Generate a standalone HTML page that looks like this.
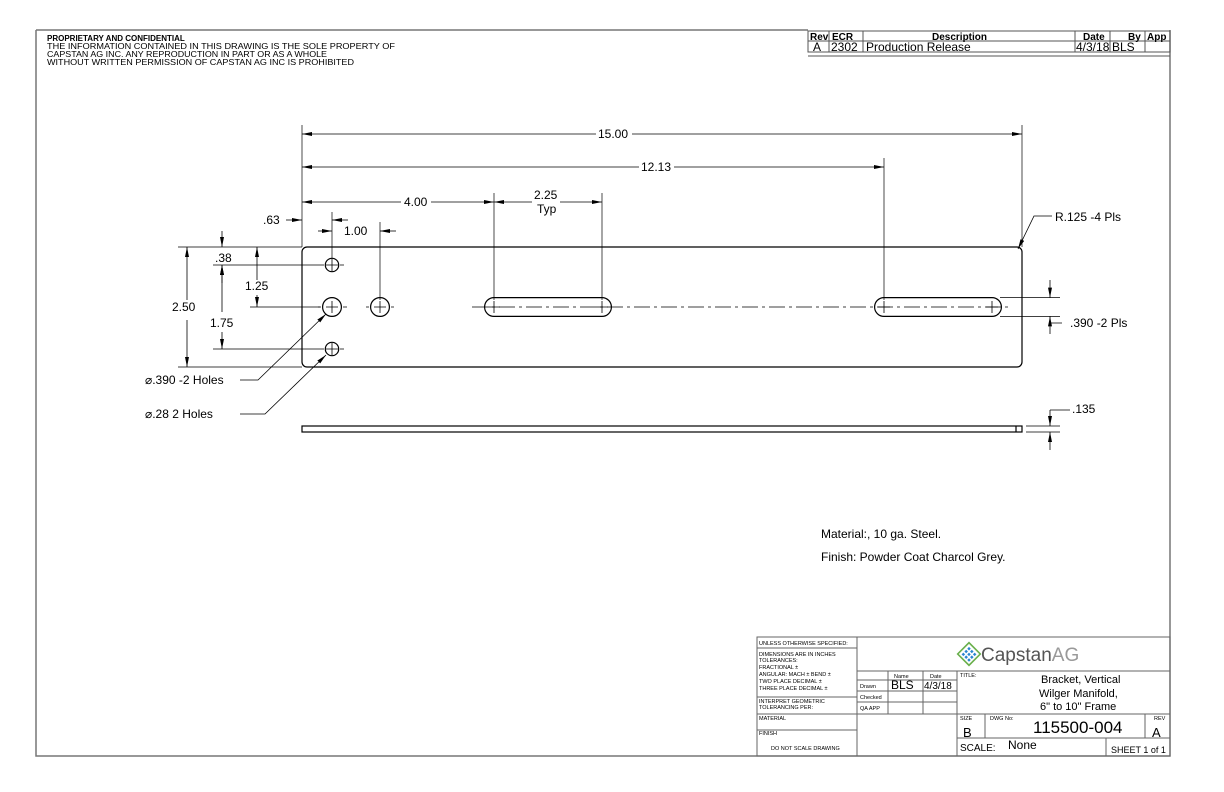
<!DOCTYPE html>
<html><head><style>
html,body{margin:0;padding:0;background:#fff}
svg{display:block}
text{font-family:"Liberation Sans",Arial,sans-serif;fill:#000}
</style></head><body>
<svg width="1224" height="792" viewBox="0 0 1224 792" xmlns="http://www.w3.org/2000/svg">
<defs>
<marker id="a" viewBox="0 0 10 4" refX="10" refY="2" markerWidth="10" markerHeight="4" orient="auto" markerUnits="userSpaceOnUse"><path d="M0,0 L10,2 L0,4z" fill="#000"/></marker>
</defs>
<g stroke="#777" stroke-width="1.5" fill="none">
<path d="M36,30 H808 M36,30 V756 H1170 V30"/>
</g>
<text x="47" y="41" font-size="8" font-weight="bold">PROPRIETARY AND CONFIDENTIAL</text>
<text x="47" y="49" font-size="8.5" textLength="348" lengthAdjust="spacingAndGlyphs">THE INFORMATION CONTAINED IN THIS DRAWING IS THE SOLE PROPERTY OF</text>
<text x="47" y="57" font-size="8.5" textLength="280" lengthAdjust="spacingAndGlyphs">CAPSTAN AG INC. ANY REPRODUCTION IN PART OR AS A WHOLE</text>
<text x="47" y="65" font-size="8.5" textLength="307" lengthAdjust="spacingAndGlyphs">WITHOUT WRITTEN PERMISSION OF CAPSTAN AG INC IS PROHIBITED</text>
<g stroke="#555" stroke-width="1" fill="none">
<rect x="808" y="31" width="362" height="21"/>
<path d="M808,41 H1170 M829,31 V52 M863,31 V52 M1075,31 V52 M1110,31 V52 M1145,31 V52 M808,56 H1170"/>
</g>
<g font-size="10" font-weight="bold">
<text x="810" y="40">Rev</text><text x="832" y="40">ECR</text><text x="932" y="40">Description</text><text x="1083" y="40">Date</text><text x="1128" y="40">By</text><text x="1147" y="40">App</text>
</g>
<g font-size="12">
<text x="813" y="51">A</text><text x="831" y="51">2302</text><text x="866" y="51">Production Release</text><text x="1076" y="51">4/3/18</text><text x="1112" y="51">BLS</text>
</g>
<g stroke="#000" stroke-width="1.2" fill="none">
<rect x="302" y="247" width="720" height="120" rx="5"/>
<circle cx="332" cy="265" r="6.7"/><circle cx="332" cy="349" r="6.7"/>
<circle cx="332" cy="307" r="9.4"/><circle cx="380" cy="307" r="9.4"/>
<path d="M494,297.6 H602 A9.4,9.4 0 0 1 602,316.4 H494 A9.4,9.4 0 0 1 494,297.6Z"/>
<path d="M884,297.6 H992 A9.4,9.4 0 0 1 992,316.4 H884 A9.4,9.4 0 0 1 884,297.6Z"/>
<rect x="302" y="426" width="720" height="6"/>
<path d="M1016,426 V432"/>
</g>
<g stroke="#000" stroke-width="0.8" fill="none">
<path d="M326,265 H338 M332,259 V271 M326,349 H338 M332,343 V355 M326,307 H338 M332,301 V313 M374,307 H386 M380,301 V313"/>
<path d="M488,307 H500 M494,301 V313 M596,307 H608 M602,301 V313 M878,307 H890 M884,301 V313 M986,307 H998 M992,301 V313"/>
<path d="M472,307 H1010" stroke-dasharray="16,4,3,4"/>
<path d="M320,265 H324 M340,265 H344 M320,349 H324 M340,349 H344 M318,307 H321 M343,307 H347 M366,307 H369 M391,307 H394"/>
</g>
<g stroke="#000" stroke-width="0.7" fill="none">
<path d="M302,125 V247 M1022,125 V247 M884,158 V300 M494,193 V300 M602,193 V300 M332,212 V258 M380,222 V300"/>
<path d="M178,247 H302 M178,367 H302 M213,265 H320 M250,307 H320 M213,349 H320"/>
<path d="M1000,297.6 H1060 M1000,316.4 H1060 M1026,426 H1060 M1026,432 H1060"/>
</g>
<g stroke="#000" stroke-width="0.8" fill="none" marker-end="url(#a)">
<path d="M596,134 H302"/><path d="M632,134 H1022"/>
<path d="M639,167 H302"/><path d="M674,167 H884"/>
<path d="M401,202 H302"/><path d="M431,202 H494"/>
<path d="M532,202 H494"/><path d="M560,202 H602"/>
<path d="M187,300 V247"/><path d="M187,320 V367"/>
<path d="M257,280 V247"/><path d="M257,295 V307"/>
<path d="M222,312 V265"/><path d="M222,332 V349"/>
<path d="M286,220 H302"/><path d="M348,220 H332"/>
<path d="M318,231 H332"/><path d="M396,231 H380"/>
<path d="M222,231 V247"/><path d="M222,283 V265"/>
<path d="M1050,280 V297.6"/><path d="M1050,334 V316.4"/>
<path d="M1050,410 V426"/><path d="M1050,450 V432"/>
<path d="M240,380 H258 L326,314"/>
<path d="M240,414 H265 L326,355"/>
<path d="M1052,216 H1034 L1018,249"/>
</g>
<g stroke="#000" stroke-width="0.8"><path d="M1062,323 H1050 M1070,410 H1050"/></g>
<g font-size="12">
<text x="598" y="138">15.00</text>
<text x="641" y="171">12.13</text>
<text x="404" y="206">4.00</text>
<text x="534" y="199">2.25</text><text x="537" y="213">Typ</text>
<text x="263" y="224">.63</text>
<text x="344" y="235">1.00</text>
<text x="1055" y="221">R.125 -4 Pls</text>
<text x="1070" y="327">.390 -2 Pls</text>
<text x="1072" y="413">.135</text>
<text x="215" y="262">.38</text>
<text x="245" y="290">1.25</text>
<text x="172" y="311">2.50</text>
<text x="210" y="327">1.75</text>
<text x="145" y="384">⌀.390 -2 Holes</text>
<text x="145" y="418">⌀.28 2 Holes</text>
<text x="821" y="538">Material:, 10 ga. Steel.</text>
<text x="821" y="561">Finish: Powder Coat Charcol Grey.</text>
</g>
<g stroke="#666" stroke-width="1" fill="none">
<rect x="757" y="637" width="413" height="119"/>
<path d="M857,637 V756 M957,671 V756 M857,671 H1170 M757,648 H857 M757,697 H857 M757,714 H1170 M757,730 H857"/>
<path d="M857,680 H957 M857,691 H957 M857,702 H957 M888,671 V714 M923,671 V714"/>
<path d="M985,714 V738 M1145,714 V738 M957,738 H1170 M1106,738 V756"/>
</g>
<g font-size="5.5">
<text x="759" y="645">UNLESS OTHERWISE SPECIFIED:</text>
<text x="759" y="656">DIMENSIONS ARE IN INCHES</text>
<text x="759" y="662">TOLERANCES:</text>
<text x="759" y="669">FRACTIONAL ±</text>
<text x="759" y="676">ANGULAR: MACH ±    BEND ±</text>
<text x="759" y="683">TWO PLACE DECIMAL   ±</text>
<text x="759" y="690">THREE PLACE DECIMAL  ±</text>
<text x="759" y="703">INTERPRET GEOMETRIC</text>
<text x="759" y="709">TOLERANCING PER:</text>
<text x="759" y="720">MATERIAL</text>
<text x="759" y="735">FINISH</text>
<text x="771" y="750">DO NOT SCALE DRAWING</text>
<text x="894" y="678">Name</text><text x="930" y="678">Date</text>
<text x="860" y="688">Drawn</text><text x="860" y="699">Checked</text><text x="860" y="710">QA APP</text>
<text x="960" y="677">TITLE:</text>
<text x="960" y="720">SIZE</text><text x="990" y="720">DWG No:</text><text x="1154" y="720">REV</text>
</g>
<text x="891" y="689" font-size="12">BLS</text>
<text x="924" y="689" font-size="10">4/3/18</text>
<text x="1041" y="683" font-size="11">Bracket, Vertical</text>
<text x="1039" y="697" font-size="11">Wilger Manifold,</text>
<text x="1040" y="710" font-size="11">6" to 10" Frame</text>
<text x="963" y="737" font-size="13">B</text>
<text x="1033" y="733" font-size="17">115500-004</text>
<text x="1152" y="737" font-size="13">A</text>
<text x="960" y="751" font-size="10">SCALE:</text>
<text x="1008" y="749" font-size="12">None</text>
<text x="1111" y="753" font-size="9">SHEET 1 of 1</text>
<g transform="translate(969,654) rotate(45)">
<rect x="-8" y="-8" width="16" height="16" fill="#fff" stroke="#6ab04c" stroke-width="1.6"/>
<g fill="#2a86d0">
<rect x="-5" y="-5" width="2.5" height="2.5"/><rect x="-1" y="-5" width="2.5" height="2.5"/><rect x="3" y="-5" width="2.5" height="2.5"/>
<rect x="-5" y="-1" width="2.5" height="2.5"/><rect x="-1" y="-1" width="2.5" height="2.5"/><rect x="3" y="-1" width="2.5" height="2.5"/>
<rect x="-5" y="3" width="2.5" height="2.5"/><rect x="-1" y="3" width="2.5" height="2.5"/><rect x="3" y="3" width="2.5" height="2.5"/>
</g></g>
<text x="981" y="661" font-size="19" style="fill:#555">Capstan<tspan style="fill:#999">AG</tspan></text>
</svg>
</body></html>
